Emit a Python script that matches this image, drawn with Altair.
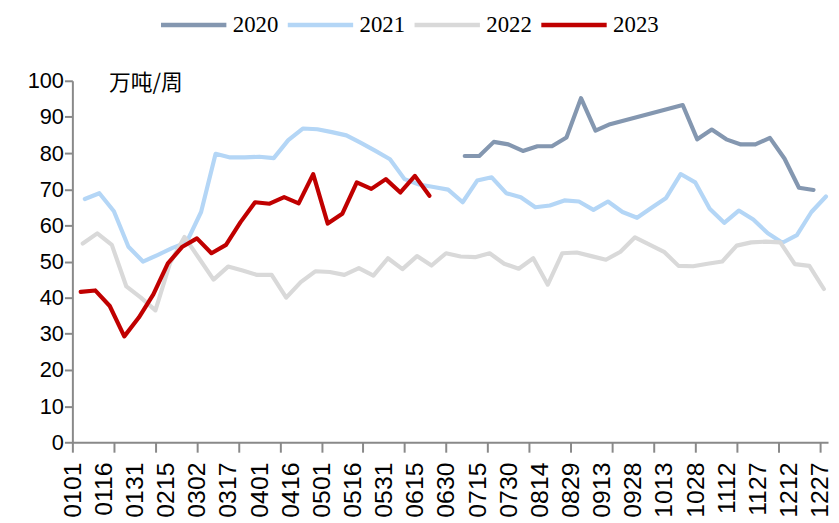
import altair as alt
import pandas as pd

YEARS = ["2020", "2021", "2022", "2023"]
COLORS = ["#8497b0", "#b4d6f6", "#d9d9d9", "#c00000"]
UNIT = "万吨/周"

# x tick labels (every 15 days) and tick marks (every 20 days)
X_LABELS = ["0101", "0116", "0131", "0215", "0302", "0317", "0401", "0416", "0501",
            "0516", "0531", "0615", "0630", "0715", "0730", "0814", "0829", "0913",
            "0928", "1013", "1028", "1112", "1127", "1212", "1227"]
LABEL_STEP = 15
TICK_STEP = 20

# weekly series: first day-of-year, then weekly values (None = no data)
START_2020 = 189
V_2020 = [79.2, 79.2, 83.1, 82.4, 80.6, 81.9, 81.9, 84.3, 95.2, 86.2, 88.0,
          None, None, None, None, 93.3, 83.8, 86.5, 83.8, 82.4, 82.4, 84.2,
          78.5, 70.4, 69.8]
START_2021 = 6
V_2021 = [67.3, 68.9, 63.9, 54.1, 50.0, 51.8, 53.7, 55.3, 63.7, 79.8,
          78.8, 78.8, 79.0, 78.6, 83.6, 86.8, 86.6, 85.8, 84.9, 82.8,
          80.6, 78.3, 72.8, 71.3, 70.6, 69.9, 66.4, 72.4, 73.3, 68.9,
          67.8, 65.0, 65.5, 66.9, 66.6, 64.3, 66.6, 63.7, 62.1, 64.9,
          67.6, 74.2, 71.9, 64.6, 60.7, 64.1, 61.6, 57.8, 55.2, 57.3,
          63.7, 68.0]
START_2022 = 5
V_2022 = [55.0, 57.8, 54.6, 43.1, 40.0, 36.5, 49.5, 56.8, 50.9, 45.0,
          48.6, 47.5, 46.3, 46.3, 40.0, 44.3, 47.3, 47.1, 46.3, 48.2,
          46.1, 50.9, 47.9, 51.5, 48.9, 52.3, 51.4, 51.2, 52.3, 49.4,
          48.0, 50.9, 43.6, 52.3, 52.5, 51.5, 50.5, 52.7, 56.7, 54.7,
          52.7, 48.8, 48.7, 49.4, 50.0, 54.4, 55.3, 55.5, 55.3, 49.3,
          48.8, 42.4]
START_2023 = 4
V_2023 = [41.6, 42.0, 37.7, 29.3, 34.5, 40.9, 49.5, 54.1, 56.4, 52.3,
          54.6, 60.9, 66.4, 66.0, 67.8, 66.1, 74.2, 60.5, 63.2, 71.9,
          70.1, 72.8, 69.1, 73.7, 68.2]

series = {"2020": (START_2020, V_2020), "2021": (START_2021, V_2021),
          "2022": (START_2022, V_2022), "2023": (START_2023, V_2023)}
rows = []
for yr, (start, vals) in series.items():
    for i, v in enumerate(vals):
        if v is not None:
            rows.append({"year": yr, "day": start + 7 * i, "value": v, "ord": i})
df = pd.DataFrame(rows)

last_day = LABEL_STEP * (len(X_LABELS) - 1)
axis_values = sorted(set(range(0, last_day + 1, LABEL_STEP)) | set(range(0, last_day + 1, TICK_STEP)))
label_array = "[" + ",".join("'%s'" % s for s in X_LABELS) + "]"
label_expr = "datum.value %% %d === 0 ? %s[datum.value / %d] : ''" % (LABEL_STEP, label_array, LABEL_STEP)

AX_COLOR = "#898989"

lines = alt.Chart(df).mark_line(strokeWidth=4.2, strokeJoin="round", strokeCap="round").encode(
    x=alt.X("day:Q",
            scale=alt.Scale(domain=[0, 364], nice=False, zero=False),
            axis=alt.Axis(values=axis_values, labelExpr=label_expr,
                          tickOpacity={"condition": {"test": "datum.value %% %d === 0" % TICK_STEP, "value": 1}, "value": 0},
                          labelAngle=270, labelFont="Liberation Sans", labelFontSize=25,
                          labelColor="black", labelPadding=10, tickSize=10, tickWidth=2,
                          tickColor=AX_COLOR, domainColor=AX_COLOR, domainWidth=2,
                          labelOverlap=False, labelFlush=False, grid=False, title=None)),
    y=alt.Y("value:Q",
            scale=alt.Scale(domain=[0, 100], nice=False),
            axis=alt.Axis(values=list(range(0, 101, 10)), title=None, grid=False,
                          tickSize=8, tickWidth=2, tickColor=AX_COLOR, domainColor=AX_COLOR,
                          domainWidth=2, labelFont="Liberation Sans", labelFontSize=22,
                          labelColor="black", labelPadding=1)),
    color=alt.Color("year:N", scale=alt.Scale(domain=YEARS, range=COLORS),
                    legend=alt.Legend(orient="none", legendX=87, legendY=-92,
                                      direction="horizontal", title=None,
                                      symbolType="stroke", symbolSize=4356,
                                      symbolStrokeWidth=4.5, labelFont="Liberation Serif",
                                      labelFontSize=23, labelColor="black",
                                      labelOffset=4, columnPadding=0)),
    order="ord:Q",
)

unit = alt.Chart(pd.DataFrame({"t": [UNIT]})).mark_text(
    font="Noto Sans CJK SC", fontSize=22, align="left", baseline="middle", color="black"
).encode(text="t:N", x=alt.value(37), y=alt.value(2))

chart = alt.layer(lines, unit).properties(
    width=763, height=365,
    padding={"left": 65, "top": 71, "right": 3, "bottom": 78},
    autosize=alt.AutoSizeParams(type="none"),
).configure_view(stroke=None)

chart.save("out.html", embed_options={"renderer": "svg", "actions": False})
